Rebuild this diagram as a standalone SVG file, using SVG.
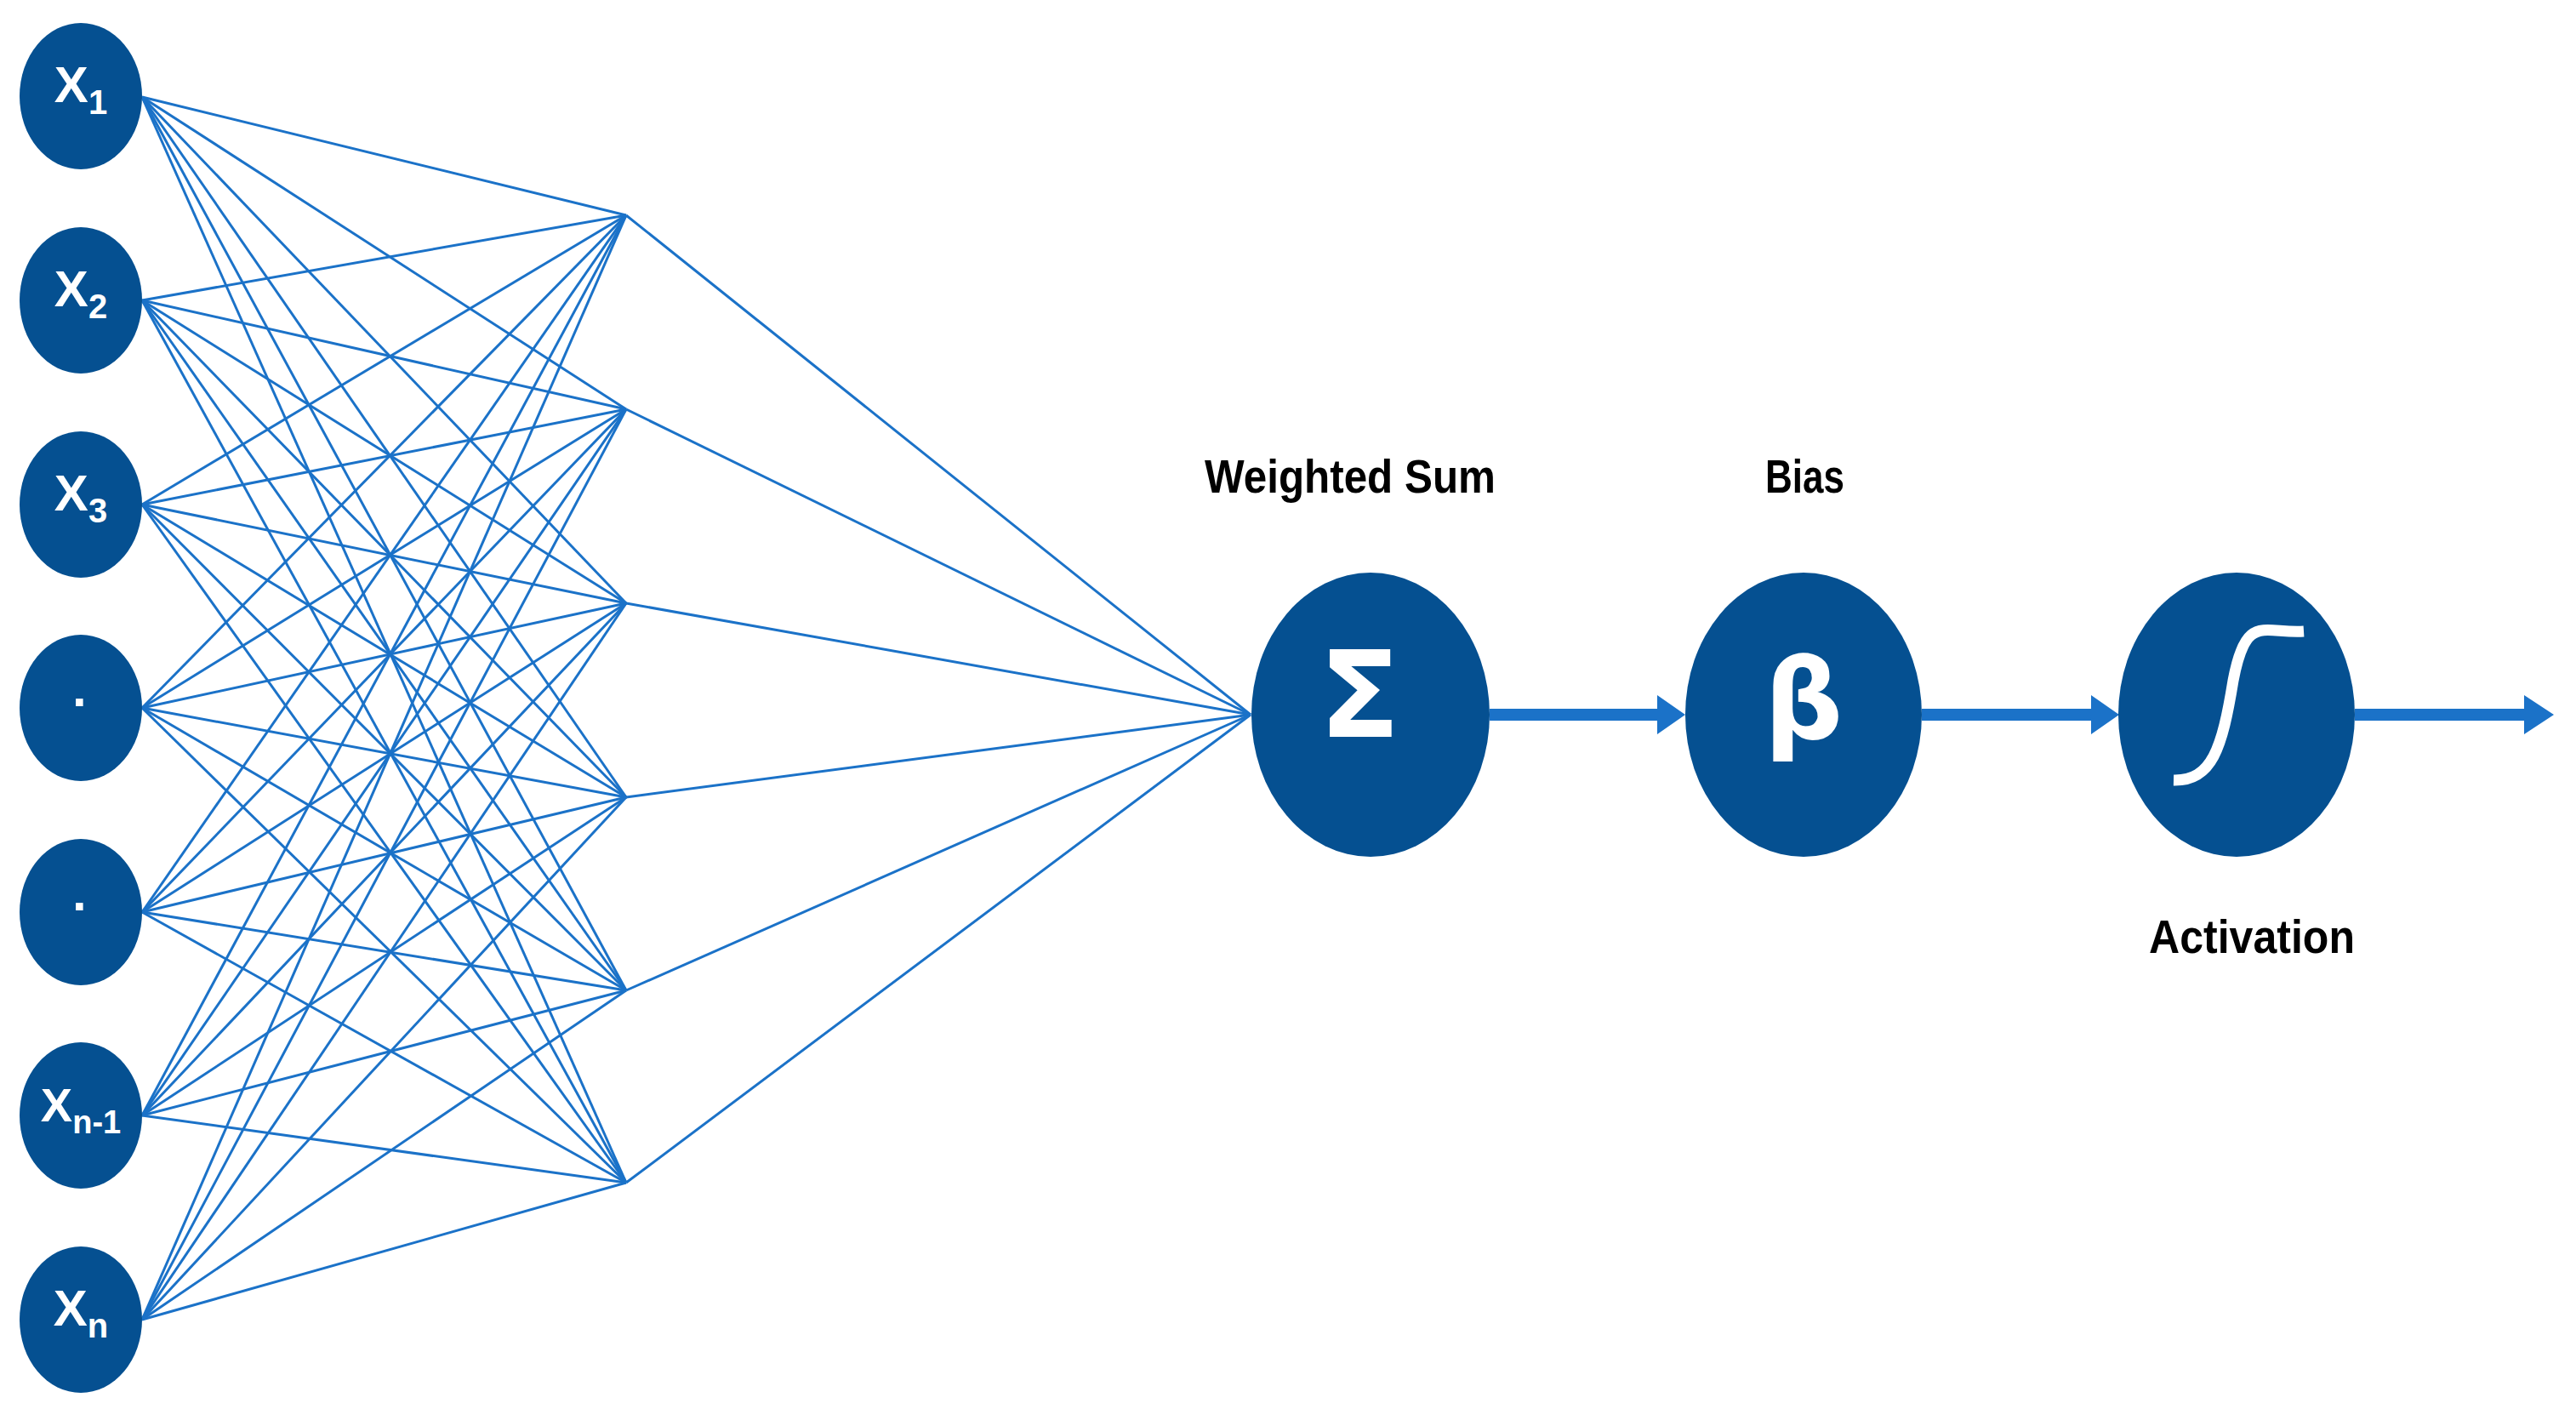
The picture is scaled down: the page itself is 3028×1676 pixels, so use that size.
<svg xmlns="http://www.w3.org/2000/svg" width="3028" height="1676" viewBox="0 0 3028 1676">
<style>
.n{fill:#055091}
.t{fill:#fff;font-family:"Liberation Sans",Arial,sans-serif;font-weight:bold;text-anchor:middle}
.l{fill:#000;font-family:"Liberation Sans",Arial,sans-serif;font-weight:bold;font-size:56px}
.c line{stroke:#1b72c8;stroke-width:3}
.a{stroke:#1b72c8;stroke-width:14}
.h{fill:#1b72c8}
</style>
<rect width="3028" height="1676" fill="#fff"/>
<g class="c" id="connectors">
<line x1="167" y1="114" x2="736" y2="253"/><line x1="167" y1="114" x2="736" y2="481"/><line x1="167" y1="114" x2="736" y2="709"/><line x1="167" y1="114" x2="736" y2="937"/><line x1="167" y1="114" x2="736" y2="1164"/><line x1="167" y1="114" x2="736" y2="1390"/>
<line x1="167" y1="353" x2="736" y2="253"/><line x1="167" y1="353" x2="736" y2="481"/><line x1="167" y1="353" x2="736" y2="709"/><line x1="167" y1="353" x2="736" y2="937"/><line x1="167" y1="353" x2="736" y2="1164"/><line x1="167" y1="353" x2="736" y2="1390"/>
<line x1="167" y1="593" x2="736" y2="253"/><line x1="167" y1="593" x2="736" y2="481"/><line x1="167" y1="593" x2="736" y2="709"/><line x1="167" y1="593" x2="736" y2="937"/><line x1="167" y1="593" x2="736" y2="1164"/><line x1="167" y1="593" x2="736" y2="1390"/>
<line x1="167" y1="832" x2="736" y2="253"/><line x1="167" y1="832" x2="736" y2="481"/><line x1="167" y1="832" x2="736" y2="709"/><line x1="167" y1="832" x2="736" y2="937"/><line x1="167" y1="832" x2="736" y2="1164"/><line x1="167" y1="832" x2="736" y2="1390"/>
<line x1="167" y1="1072" x2="736" y2="253"/><line x1="167" y1="1072" x2="736" y2="481"/><line x1="167" y1="1072" x2="736" y2="709"/><line x1="167" y1="1072" x2="736" y2="937"/><line x1="167" y1="1072" x2="736" y2="1164"/><line x1="167" y1="1072" x2="736" y2="1390"/>
<line x1="167" y1="1311" x2="736" y2="253"/><line x1="167" y1="1311" x2="736" y2="481"/><line x1="167" y1="1311" x2="736" y2="709"/><line x1="167" y1="1311" x2="736" y2="937"/><line x1="167" y1="1311" x2="736" y2="1164"/><line x1="167" y1="1311" x2="736" y2="1390"/>
<line x1="167" y1="1551" x2="736" y2="253"/><line x1="167" y1="1551" x2="736" y2="481"/><line x1="167" y1="1551" x2="736" y2="709"/><line x1="167" y1="1551" x2="736" y2="937"/><line x1="167" y1="1551" x2="736" y2="1164"/><line x1="167" y1="1551" x2="736" y2="1390"/>
<line x1="736" y1="253" x2="1470" y2="840"/><line x1="736" y1="481" x2="1470" y2="840"/><line x1="736" y1="709" x2="1470" y2="840"/><line x1="736" y1="937" x2="1470" y2="840"/><line x1="736" y1="1164" x2="1470" y2="840"/><line x1="736" y1="1390" x2="1470" y2="840"/>
<path class="a" d="M1751 840H1955M2259 840H2462M2768 840H2972"/>
<path class="h" d="M1948 817L1981 840L1948 863ZM2458 817L2491 840L2458 863ZM2967 817L3002 840L2967 863Z"/>
</g>
<g id="x1"><ellipse class="n" cx="95" cy="113" rx="72" ry="86"/><text class="t" x="95" y="120" font-size="60">X<tspan font-size="40" dy="14">1</tspan></text></g>
<g id="x2"><ellipse class="n" cx="95" cy="353" rx="72" ry="86"/><text class="t" x="95" y="360" font-size="60">X<tspan font-size="40" dy="14">2</tspan></text></g>
<g id="x3"><ellipse class="n" cx="95" cy="593" rx="72" ry="86"/><text class="t" x="95" y="600" font-size="60">X<tspan font-size="40" dy="14">3</tspan></text></g>
<g id="d1"><ellipse class="n" cx="95" cy="832" rx="72" ry="86"/><text class="t" x="95" y="845" font-size="60">·</text></g>
<g id="d2"><ellipse class="n" cx="95" cy="1072" rx="72" ry="86"/><text class="t" x="95" y="1085" font-size="60">·</text></g>
<g id="xn1"><ellipse class="n" cx="95" cy="1311" rx="72" ry="86"/><text class="t" x="95" y="1318" font-size="56">X<tspan font-size="38" dy="14">n-1</tspan></text></g>
<g id="xn"><ellipse class="n" cx="95" cy="1551" rx="72" ry="86"/><text class="t" x="95" y="1558" font-size="60">X<tspan font-size="40" dy="14">n</tspan></text></g>
<g id="sum"><ellipse class="n" cx="1611" cy="840" rx="140" ry="167"/><text class="t" x="1598" y="866" font-size="140" font-weight="normal" style="font-family:'DejaVu Sans',sans-serif">Σ</text><text class="l" x="1416" y="579" textLength="342" lengthAdjust="spacingAndGlyphs">Weighted Sum</text></g>
<g id="bias"><ellipse class="n" cx="2120" cy="840" rx="139" ry="167"/><text class="t" x="2120" y="868" font-size="130" font-weight="normal" style="font-family:'DejaVu Sans',sans-serif">β</text><text class="l" x="2075" y="579" textLength="93" lengthAdjust="spacingAndGlyphs">Bias</text></g>
<g id="act"><ellipse class="n" cx="2629" cy="840" rx="139" ry="167"/><path d="M2555 917C2600 918 2612 880 2625 800C2640 720 2660 745 2708 742" fill="none" stroke="#fff" stroke-width="13"/><text class="l" x="2526" y="1120" textLength="242" lengthAdjust="spacingAndGlyphs">Activation</text></g>
</svg>
